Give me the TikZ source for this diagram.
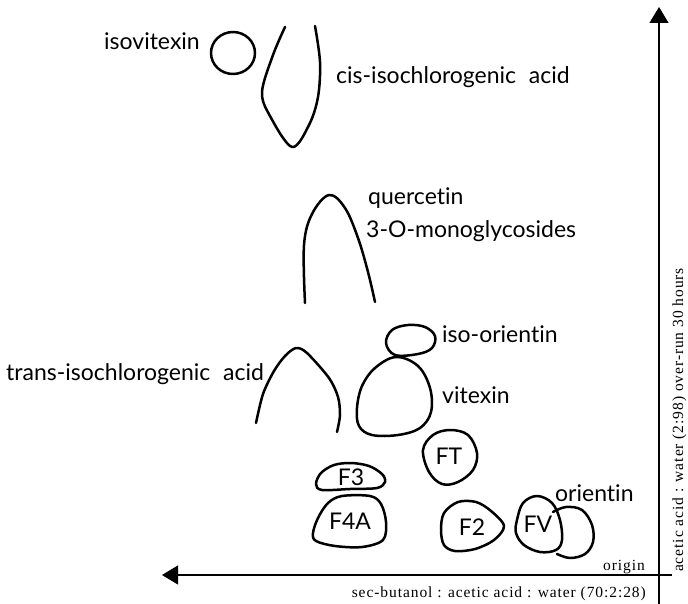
\documentclass[tikz,border=0pt]{standalone}
\usepackage{fontspec}
\setmainfont[Ligatures={NoCommon}]{Lato}
\newfontfamily\axisfont[LetterSpace=6]{Liberation Serif}
\usetikzlibrary{arrows.meta}
\begin{document}
\begin{tikzpicture}[x=1pt,y=-1pt,
  spot/.style={line width=2.5pt, line join=round, line cap=round},
  axis/.style={line width=1.2pt},
  lbl/.style={inner sep=0pt, font=\fontsize{23}{27}\selectfont},
  axlbl/.style={inner sep=0pt, font=\axisfont\fontsize{15.5}{18}\selectfont}]
\useasboundingbox (0,0) rectangle (688,604);
% axes
\coordinate (ybot) at (659,604);
\coordinate (ytop) at (659,7);
\coordinate (xright) at (672,575);
\coordinate (xleft) at (162,575);
\draw[axis,-{Triangle[width=19pt,length=16pt]}] (ybot) -- (ytop);
\draw[axis,-{Triangle[width=19pt,length=16pt]}] (xright) -- (xleft);
\node[axlbl, anchor=base east] (xlab) at (646,597) {sec-butanol : acetic acid : water (70:2:28)};
\node[axlbl, rotate=90, anchor=base] (ylab) at (683,420) {acetic acid : water (2:98) over-run 30 hours};
\node[axlbl, anchor=base west] (orig) at (603,570) {origin};
% spots
\draw[spot] (233,53) ellipse [x radius=22, y radius=21];
\draw[spot] plot[smooth,tension=0.55] coordinates {(285,27)(273,55)(262,92)(270,116)(292,147)(309,125)(318,97)(320,62)(315,26)};
\draw[spot] plot[smooth,tension=0.6] coordinates {(305,303)(304,245)(312,214)(329,195)(345,208)(358,238)(368,272)(375,302)};
\draw[spot] plot[smooth,tension=0.5] coordinates {(256,423)(263,394)(274,371)(285,356)(296,348)(307,353)(329,378)(338,397)(340,415)(337,432)};
\draw[spot] plot[smooth cycle,tension=0.6] coordinates {(386,343)(392,330)(408,325)(425,327)(435,336)(432,348)(418,354)(395,355)};
\draw[spot] plot[smooth cycle,tension=0.6] coordinates {(396,357)(375,368)(362,386)(357,408)(359,426)(372,435)(398,435)(420,428)(431,412)(430,388)(418,366)};
\draw[spot] plot[smooth cycle,tension=0.6] coordinates {(423,450)(433,435)(450,430)(468,435)(477,453)(473,470)(458,482)(442,484)(429,472)};
\draw[spot] plot[smooth cycle,tension=0.55] coordinates {(316,484)(321,473)(334,465)(351,463)(369,466)(382,474)(385,482)(377,488)(350,489)(322,490)};
\draw[spot] plot[smooth cycle,tension=0.55] coordinates {(313,533)(318,518)(328,503)(342,496)(370,496)(381,504)(386,522)(383,540)(362,547)(335,546)(316,541)};
\draw[spot] plot[smooth cycle,tension=0.55] coordinates {(441,530)(444,513)(458,502)(476,502)(491,511)(504,526)(494,540)(475,549)(455,551)(444,545)};
\draw[spot] plot[smooth cycle,tension=0.6] coordinates {(517,520)(523,503)(537,496)(552,503)(560,520)(562,540)(556,550)(540,552)(524,545)(516,533)};
\draw[spot] plot[smooth,tension=0.6] coordinates {(553,512)(566,507)(582,510)(592,525)(593,542)(585,554)(570,558)(557,554)};
% labels
\node[lbl, anchor=base west] (isovit) at (104,50) {isovitexin};
\node[lbl, anchor=base west] (cis) at (336,84) {cis-isochlorogenic\hspace{0.3em} acid};
\node[lbl, anchor=base west] (querc) at (368,205) {quercetin};
\node[lbl, anchor=base west] (mono) at (366,237) {3-O-monoglycosides};
\node[lbl, anchor=base west] (trans) at (6,380) {trans-isochlorogenic\hspace{0.3em} acid};
\node[lbl, anchor=base west] (isoor) at (442,342) {iso-orientin};
\node[lbl, anchor=base west] (vitex) at (442,403) {vitexin};
\node[lbl] (ft) at (449,456) {FT};
\node[lbl] (f3) at (351,477) {F3};
\node[lbl] (f4a) at (350,521) {F4A};
\node[lbl] (f2) at (472,527) {F2};
\node[lbl] (fv) at (538,524) {FV};
\node[lbl, anchor=base west] (orient) at (555,501) {orientin};
\end{tikzpicture}
\end{document}
